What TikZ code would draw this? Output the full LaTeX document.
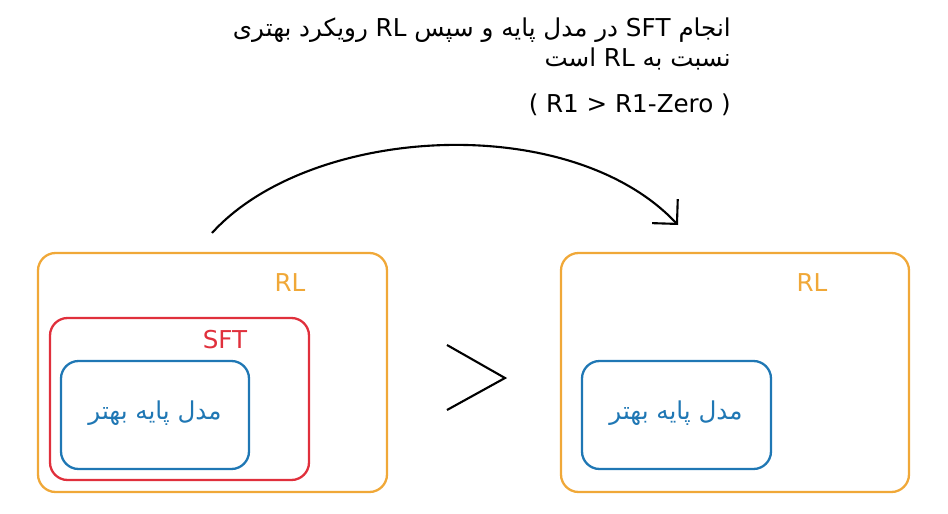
\documentclass[tikz,border=0pt]{standalone}
\usepackage{fontspec}
\setmainfont{DejaVu Sans}
\newfontfamily\arabicfont[Script=Arabic]{DejaVu Sans}
\TeXXeTstate=1
\usetikzlibrary{arrows.meta}
\definecolor{rlorange}{HTML}{F0A838}
\definecolor{sftred}{HTML}{E0303C}
\definecolor{baseblue}{HTML}{1F77B4}
\tikzset{box/.style = {draw, rounded corners=10pt, line width=1.3pt},
    lbl/.style = {font=\fontsize{14}{17}\selectfont},
    arrow/.style = {line width=1.2pt, -{Straight Barb[length=10pt,width=20pt]}}}
\begin{document}
\begin{tikzpicture}[x=0.02cm, y=-0.02cm]
\useasboundingbox (0,0) rectangle (948,514);

% left side
\node (rlA) [box, rlorange, minimum width=349*0.02cm, minimum height=239*0.02cm] at (212.5,372.5) {};
\node (sftA) [box, sftred, minimum width=259*0.02cm, minimum height=162*0.02cm] at (179.5,399) {};
\node (baseA) [box, baseblue, minimum width=188*0.02cm, minimum height=108*0.02cm] at (155,415) {};
\node (rlAl) [lbl, rlorange] at (290,283) {RL};
\node (sftAl) [lbl, sftred] at (225,340) {SFT};
\node (baseAl) [lbl, baseblue] at (155,413) {\arabicfont\beginR مدل پایه بهتر\endR};

% right side
\node (rlB) [box, rlorange, minimum width=348*0.02cm, minimum height=239*0.02cm] at (735,372.5) {};
\node (baseB) [box, baseblue, minimum width=189*0.02cm, minimum height=108*0.02cm] at (676.5,415) {};
\node (rlBl) [lbl, rlorange] at (812,283) {RL};
\node (baseBl) [lbl, baseblue] at (676,413) {\arabicfont\beginR مدل پایه بهتر\endR};

% comparison sign
\coordinate (gtA) at (447,345);
\coordinate (gtB) at (505,378);
\coordinate (gtC) at (447,410);
\draw [line width=1.2pt] (gtA) -- (gtB) -- (gtC);

% arc
\coordinate (arcS) at (212,233);
\coordinate (arcE) at (678,225);
\draw [arrow] (arcS) .. controls (310,125) and (570,110) .. (arcE);

% caption
\node (cap) [lbl, anchor=north east, align=right] at (737,12)
  {\arabicfont\beginR انجام \beginL SFT\endL{} در مدل پایه و سپس \beginL RL\endL{} رویکرد بهتری\endR\\
   \arabicfont\beginR نسبت به \beginL RL\endL{} است\endR};
\node (cmp) [lbl, anchor=north east] at (737,88) {( R1 > R1-Zero )};
\end{tikzpicture}
\end{document}
